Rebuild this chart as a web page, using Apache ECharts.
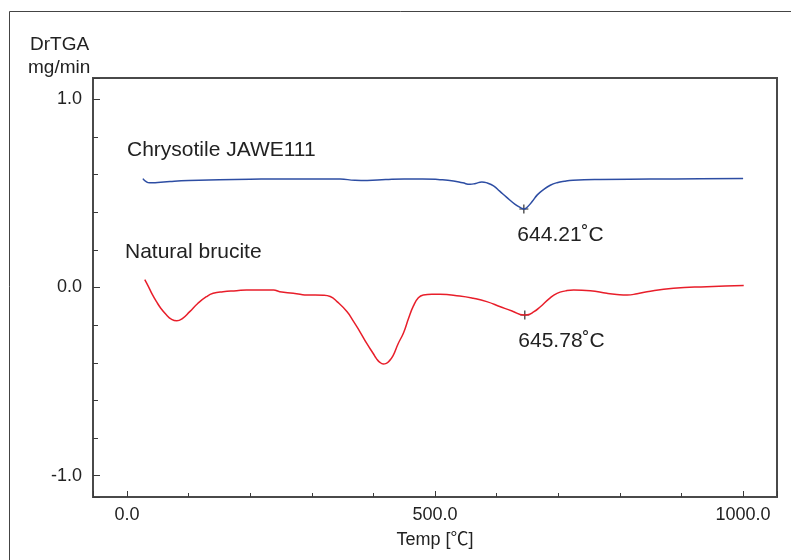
<!DOCTYPE html>
<html>
<head>
<meta charset="utf-8">
<script src="https://cdn.jsdelivr.net/npm/echarts@6/dist/echarts.min.js"></script>
<style>
html,body{margin:0;padding:0;background:#fff;}
#chart{width:791px;height:560px;}
</style>
</head>
<body>
<div id="chart"></div>
<script>
// Chrysotile JAWE111 (blue) : temperature [°C] and DrTGA [mg/min]
const chrysotileT = [26, 30, 37, 50, 70, 100, 150, 200, 250, 300, 346, 370, 390, 420, 450, 480, 508, 530, 545, 557, 566, 576, 585, 595, 605, 616, 630, 640, 644, 650, 658, 666, 676, 687, 698, 710, 724, 768, 849, 930, 1000];
const chrysotileV = [0.578, 0.565, 0.556, 0.558, 0.563, 0.568, 0.572, 0.575, 0.577, 0.577, 0.576, 0.570, 0.569, 0.574, 0.577, 0.577, 0.573, 0.566, 0.556, 0.548, 0.553, 0.561, 0.555, 0.540, 0.512, 0.480, 0.442, 0.422, 0.417, 0.428, 0.458, 0.492, 0.520, 0.543, 0.557, 0.565, 0.570, 0.574, 0.576, 0.578, 0.579];
// Natural brucite (red)
const bruciteT = [29, 35, 41, 48, 55, 64, 72, 81, 90, 102, 115, 129, 140, 156, 178, 194, 216, 238, 248, 270, 281, 292, 319, 330, 341, 357, 368, 378, 389, 400, 405, 410, 416, 421, 425, 432, 440, 449, 457, 465, 473, 481, 495, 508, 540, 562, 584, 606, 625, 644, 650, 660, 671, 685, 698, 712, 725, 752, 779, 795, 812, 828, 844, 887, 941, 1001];
const bruciteV = [0.042, 0.005, -0.035, -0.075, -0.110, -0.145, -0.168, -0.177, -0.165, -0.128, -0.085, -0.049, -0.031, -0.022, -0.017, -0.013, -0.013, -0.013, -0.022, -0.031, -0.036, -0.040, -0.041, -0.048, -0.075, -0.128, -0.181, -0.234, -0.296, -0.352, -0.378, -0.396, -0.406, -0.403, -0.393, -0.362, -0.300, -0.240, -0.165, -0.098, -0.055, -0.040, -0.036, -0.036, -0.045, -0.057, -0.075, -0.102, -0.125, -0.146, -0.145, -0.130, -0.102, -0.060, -0.031, -0.018, -0.013, -0.017, -0.031, -0.037, -0.040, -0.033, -0.022, -0.004, 0.004, 0.010];
// Peak annotations
const peakTemps = [644.21, 645.78];
const peakValues = [0.417, -0.146];
const peakLabels = ['644.21˚C', '645.78˚C'];
// Axis ticks / labels
const xMajorValues = [0, 500, 1000];
const xMajorLabels = ['0.0', '500.0', '1000.0'];
const yMajorValues = [1, 0, -1];
const yMajorLabels = ['1.0', '0.0', '-1.0'];
const seriesNames = ['Chrysotile JAWE111', 'Natural brucite'];
const yAxisTitle = ['DrTGA', 'mg/min'];
const xAxisTitle = 'Temp [℃]';

const X_MIN = -55, X_MAX = 1055, Y_MIN = -1.113, Y_MAX = 1.113;
const FONT = '"Liberation Sans", Arial, Helvetica, "Noto Sans CJK JP", sans-serif';
const TXT = '#222';
const AX = '#3a3a3a';

function zip(a, b) { return a.map((v, i) => [v, b[i]]); }
function fmt(values, labels) {
  return function (v) {
    for (let i = 0; i < values.length; i++) if (Math.abs(v - values[i]) < 1e-6) return labels[i];
    return '';
  };
}

const chart = echarts.init(document.getElementById('chart'), null, {renderer: 'canvas'});
const plusPath = 'path://M3.5,0H4.5V3.5H8V4.5H4.5V8H3.5V4.5H0V3.5H3.5Z';

chart.setOption({
  animation: false,
  backgroundColor: '#fff',
  grid: {left: 93, right: 14, top: 78, bottom: 63, show: true, borderColor: '#4a4a4a', borderWidth: 2, backgroundColor: 'transparent'},
  xAxis: [
    {type: 'value', min: X_MIN, max: X_MAX, splitNumber: 11, position: 'bottom',
     axisLine: {show: false, onZero: false}, splitLine: {show: false}, axisLabel: {show: false},
     axisTick: {show: true, inside: true, length: 4, lineStyle: {color: AX, width: 1}}},
    {type: 'value', min: X_MIN, max: X_MAX, splitNumber: 2, position: 'bottom',
     axisLine: {show: false, onZero: false}, splitLine: {show: false},
     axisTick: {show: true, inside: true, length: 6, lineStyle: {color: AX, width: 1}},
     axisLabel: {show: true, margin: 9, color: TXT, fontSize: 18, fontFamily: FONT, formatter: fmt(xMajorValues, xMajorLabels)},
     name: xAxisTitle, nameLocation: 'middle', nameGap: 34,
     nameTextStyle: {color: TXT, fontSize: 18, fontFamily: FONT}}
  ],
  yAxis: [
    {type: 'value', min: Y_MIN, max: Y_MAX, splitNumber: 11, position: 'left',
     axisLine: {show: false, onZero: false}, splitLine: {show: false}, axisLabel: {show: false},
     axisTick: {show: true, inside: true, length: 5, lineStyle: {color: AX, width: 1}}},
    {type: 'value', min: Y_MIN, max: Y_MAX, splitNumber: 2, position: 'left',
     axisLine: {show: false, onZero: false}, splitLine: {show: false},
     axisTick: {show: true, inside: true, length: 7, lineStyle: {color: AX, width: 1}},
     axisLabel: {show: true, margin: 11, color: TXT, fontSize: 18, fontFamily: FONT, formatter: fmt(yMajorValues, yMajorLabels)}}
  ],
  series: [
    {name: seriesNames[0], type: 'line', xAxisIndex: 0, yAxisIndex: 0, data: zip(chrysotileT, chrysotileV),
     showSymbol: false, smooth: 0.5, lineStyle: {color: '#2d4da3', width: 1.5}},
    {name: seriesNames[1], type: 'line', xAxisIndex: 0, yAxisIndex: 0, data: zip(bruciteT, bruciteV),
     showSymbol: false, smooth: 0.5, lineStyle: {color: '#e81e2a', width: 1.5}},
    {type: 'scatter', xAxisIndex: 0, yAxisIndex: 0, data: zip(peakTemps, peakValues),
     symbol: plusPath, symbolSize: 9, itemStyle: {color: '#222', opacity: 1},
     label: {show: true, position: [-2, 31], align: 'left', verticalAlign: 'middle',
       formatter: p => peakLabels[p.dataIndex], color: TXT, opacity: 1, fontSize: 21, fontFamily: FONT}}
  ],
  graphic: [
    {type: 'rect', shape: {x: 9.5, y: 11.5, width: 900, height: 700}, style: {fill: 'none', stroke: '#444', lineWidth: 1}, silent: true},
    {type: 'text', style: {x: 30, y: 45, text: yAxisTitle[0], font: '19px ' + FONT, fill: TXT, verticalAlign: 'middle'}},
    {type: 'text', style: {x: 28, y: 68, text: yAxisTitle[1], font: '19px ' + FONT, fill: TXT, verticalAlign: 'middle'}},
    {type: 'text', style: {x: 127, y: 150, text: seriesNames[0], font: '21px ' + FONT, fill: TXT, verticalAlign: 'middle'}},
    {type: 'text', style: {x: 125, y: 252, text: seriesNames[1], font: '21px ' + FONT, fill: TXT, verticalAlign: 'middle'}}
  ]
});
</script>
</body>
</html>
